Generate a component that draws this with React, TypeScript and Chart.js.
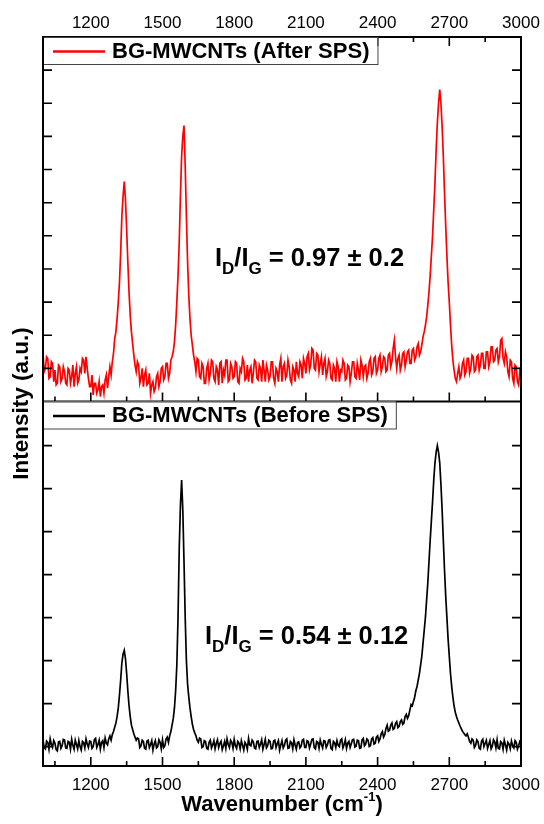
import { useEffect, useRef } from "react";
import { Chart, registerables } from "chart.js";

Chart.register(...registerables);

// ---------- data ----------
const wnStart = 1000;
const wnStep = 5;

// top panel (red) intensity, arbitrary units (one row = 100 cm-1)
const afterSPS = [
  1.45, 0.90, 1.00, 1.35, 1.30, 0.70, 0.75, 1.20, 1.15, 0.60, 0.95, 0.50, 0.55, 1.10, 1.05, 0.60, 0.70, 1.05, 0.90, 0.55,
  0.50, 1.00, 0.95, 0.55, 0.75, 1.10, 0.45, 0.85, 1.05, 0.55, 0.65, 1.00, 0.90, 1.30, 1.25, 0.85, 1.35, 1.00, 0.70, 0.45,
  0.45, 0.80, 0.20, 0.55, 0.55, 0.25, 0.35, 0.60, 0.15, 0.45, 0.50, 0.25, 0.65, 0.80, 0.40, 0.75, 1.05, 0.80, 1.20, 1.45,
  1.90, 2.10, 2.50, 3.00, 3.60, 4.50, 5.60, 6.20, 6.64, 6.10, 5.20, 4.20, 3.30, 2.60, 2.10, 1.75, 1.40, 1.10, 0.90, 1.20,
  1.10, 0.55, 0.70, 1.00, 0.45, 0.80, 0.95, 0.50, 0.55, 0.85, 0.25, 0.50, 0.60, 0.30, 0.40, 0.75, 0.85, 0.45, 0.60, 1.00,
  1.05, 0.65, 0.75, 1.15, 1.15, 0.70, 0.85, 1.25, 1.35, 1.50, 1.80, 2.30, 3.00, 3.80, 4.80, 6.20, 7.40, 8.00, 8.33, 7.10,
  5.60, 4.20, 3.20, 2.50, 2.00, 1.70, 1.40, 1.20, 0.90, 1.30, 1.25, 0.75, 0.70, 1.15, 1.05, 0.55, 0.55, 1.00, 1.15, 0.65,
  0.85, 1.25, 1.20, 0.70, 0.60, 1.05, 0.95, 0.50, 1.15, 1.20, 0.55, 0.95, 0.80, 1.25, 1.25, 0.60, 0.65, 1.15, 1.05, 0.70,
  0.75, 1.20, 1.15, 0.60, 0.55, 1.00, 0.90, 1.30, 1.20, 0.65, 0.70, 1.10, 0.60, 0.95, 1.05, 0.55, 0.85, 1.25, 1.20, 0.70,
  0.65, 1.10, 1.00, 0.60, 1.25, 0.95, 0.60, 1.10, 0.95, 0.65, 0.75, 1.20, 1.20, 0.70, 0.55, 1.00, 0.90, 0.60, 1.10, 1.30,
  0.60, 1.05, 1.15, 0.70, 0.80, 1.25, 1.05, 0.65, 0.55, 1.05, 0.95, 0.60, 1.20, 0.85, 0.75, 1.20, 1.10, 0.70, 1.30, 1.15,
  0.85, 1.35, 1.45, 0.95, 1.10, 1.60, 1.55, 1.00, 0.95, 1.45, 1.40, 0.90, 1.15, 1.35, 0.80, 1.15, 1.30, 0.75, 0.90, 1.25,
  1.15, 0.70, 0.65, 1.10, 1.00, 0.60, 1.20, 1.05, 0.60, 0.95, 0.90, 1.25, 1.15, 0.65, 0.70, 1.10, 1.05, 0.60, 0.85, 1.20,
  1.20, 0.75, 0.70, 1.15, 0.95, 0.65, 1.25, 1.10, 0.75, 1.05, 1.10, 0.70, 0.85, 1.20, 1.30, 0.80, 0.90, 1.30, 1.35, 0.85,
  0.95, 1.30, 1.40, 0.90, 1.05, 1.35, 1.30, 0.90, 0.95, 1.40, 1.45, 1.05, 1.20, 1.60, 1.85, 1.35, 1.00, 1.30, 1.40, 0.95,
  1.10, 1.45, 1.50, 1.05, 1.25, 1.50, 1.55, 1.15, 1.15, 1.55, 1.60, 1.25, 1.35, 1.65, 1.75, 1.40, 1.50, 1.70, 1.95, 2.10,
  2.30, 2.55, 2.90, 3.30, 3.80, 4.40, 5.00, 5.80, 6.60, 7.60, 8.40, 9.00, 9.41, 9.00, 8.30, 7.40, 6.30, 5.30, 4.40, 3.60,
  3.00, 2.30, 1.70, 1.25, 0.95, 0.70, 0.60, 0.85, 1.05, 0.70, 0.80, 1.15, 1.25, 0.80, 0.90, 1.30, 1.30, 0.85, 1.00, 1.40,
  1.35, 0.90, 0.95, 1.35, 1.40, 0.95, 1.10, 1.45, 1.45, 1.00, 1.00, 1.50, 1.50, 1.05, 1.20, 1.65, 1.65, 1.20, 1.25, 1.55,
  1.60, 1.20, 1.35, 1.85, 1.90, 1.30, 1.15, 1.50, 1.35, 0.90, 0.75, 1.25, 1.20, 0.70, 0.55, 1.10, 1.05, 0.60, 0.50, 0.90,
  0.75,
];

// bottom panel (black) intensity, arbitrary units (one row = 100 cm-1)
const beforeSPS = [
  0.15, -0.02, -0.05, 0.13, 0.10, -0.06, 0.18, 0.05, -0.02, 0.14, 0.08, -0.07, -0.10, 0.11, 0.12, -0.04, 0.02, 0.17, 0.16, -0.03,
  -0.04, 0.12, 0.10, -0.06, 0.17, 0.03, -0.06, 0.15, 0.05, -0.05, 0.14, 0.00, -0.08, 0.12, 0.09, -0.03, 0.18, 0.06, -0.02, 0.13,
  0.12, -0.04, 0.00, 0.16, 0.19, -0.02, 0.05, 0.15, -0.06, 0.10, 0.14, -0.02, 0.20, 0.08, 0.04, 0.18, 0.25, 0.15, 0.28, 0.35,
  0.45, 0.55, 0.70, 0.90, 1.20, 1.55, 1.95, 2.15, 2.24, 2.05, 1.70, 1.30, 0.95, 0.70, 0.50, 0.40, 0.30, 0.22, 0.15, 0.20,
  0.18, -0.02, 0.02, 0.15, 0.12, -0.04, -0.06, 0.13, 0.15, -0.02, 0.05, 0.14, -0.08, 0.06, 0.14, -0.03, 0.00, 0.16, 0.10, -0.05,
  0.16, -0.02, 0.02, 0.18, 0.22, 0.10, 0.25, 0.35, 0.50, 0.65, 0.90, 1.30, 1.90, 3.00, 4.60, 5.60, 6.20, 5.50, 4.30, 3.00,
  2.00, 1.45, 1.15, 0.90, 0.70, 0.52, 0.40, 0.32, 0.25, 0.15, 0.10, 0.20, 0.18, -0.02, 0.00, 0.14, 0.12, -0.04, -0.06, 0.10,
  0.15, -0.03, 0.04, 0.14, -0.05, 0.08, 0.16, -0.02, 0.08, 0.13, -0.07, 0.02, 0.12, -0.04, 0.18, 0.05, -0.02, 0.15, 0.10, -0.04,
  0.17, 0.02, -0.04, 0.12, 0.08, -0.05, 0.14, 0.03, -0.08, 0.10, 0.05, -0.06, 0.19, 0.04, 0.02, 0.15, 0.11, -0.03, -0.05, 0.12,
  0.13, -0.02, 0.06, 0.16, -0.06, 0.05, 0.17, -0.03, 0.02, 0.15, 0.12, -0.05, -0.04, 0.13, 0.15, -0.02, 0.07, 0.14, -0.08, 0.04,
  0.14, -0.03, 0.03, 0.15, 0.18, -0.04, -0.03, 0.12, 0.09, -0.05, 0.16, 0.04, -0.06, 0.10, 0.11, -0.03, 0.01, 0.15, 0.17, -0.02,
  -0.02, 0.14, 0.12, -0.03, 0.06, 0.17, 0.18, -0.02, -0.05, 0.12, 0.10, -0.04, 0.15, 0.05, -0.03, 0.14, 0.13, -0.02, 0.04, 0.15,
  0.16, -0.04, -0.07, 0.12, 0.09, -0.02, 0.14, 0.03, 0.00, 0.15, 0.18, -0.03, 0.05, 0.16, -0.04, 0.08, 0.12, -0.02, 0.07, 0.16,
  0.17, -0.01, 0.01, 0.15, 0.14, -0.04, -0.03, 0.16, 0.19, 0.02, 0.06, 0.18, 0.15, 0.00, 0.02, 0.18, 0.21, 0.06, 0.08, 0.22,
  0.25, 0.12, 0.18, 0.30, 0.35, 0.22, 0.28, 0.42, 0.50, 0.36, 0.38, 0.50, 0.55, 0.40, 0.42, 0.54, 0.58, 0.44, 0.47, 0.58,
  0.62, 0.52, 0.55, 0.70, 0.75, 0.66, 0.72, 0.85, 0.98, 0.95, 1.05, 1.15, 1.30, 1.40, 1.55, 1.70, 1.90, 2.10, 2.40, 2.70,
  3.00, 3.40, 3.80, 4.30, 4.80, 5.25, 5.70, 6.20, 6.60, 6.85, 7.00, 6.85, 6.60, 6.10, 5.50, 4.80, 4.10, 3.50, 3.00, 2.50,
  2.10, 1.70, 1.40, 1.15, 0.95, 0.80, 0.70, 0.62, 0.55, 0.48, 0.42, 0.36, 0.32, 0.28, 0.25, 0.30, 0.22, 0.12, 0.08, 0.18,
  0.15, -0.02, 0.03, 0.16, 0.12, -0.04, -0.06, 0.13, 0.17, 0.00, 0.08, 0.15, -0.04, 0.05, 0.14, -0.05, 0.01, 0.16, 0.11, -0.03,
  0.16, -0.04, -0.05, 0.12, 0.09, -0.06, 0.15, 0.04, -0.08, 0.10, 0.06, -0.05, 0.13, 0.02, -0.03, 0.14, 0.10, -0.06, 0.02, 0.12,
  0.08,
];

const wavenumbers = afterSPS.map((_, i) => wnStart + i * wnStep);

const xTickLabels = [1200, 1500, 1800, 2100, 2400, 2700, 3000];
const xMinorTicks = [1050, 1350, 1650, 1950, 2250, 2550, 2850];
const topYTicks = [1, 2, 3, 4, 5, 6, 7, 8, 9, 10];
const botYTicks = [0, 1, 2, 3, 4, 5, 6, 7];

const seriesLabels = ["BG-MWCNTs (After SPS)", "BG-MWCNTs (Before SPS)"];
const seriesColors = ["#ff0000", "#000000"];
const ratioValues = ["0.97 ± 0.2", "0.54 ± 0.12"];
const yTitle = "Intensity (a.u.)";
const xTitle = "Wavenumber (cm";
const xTitleSup = "-1";

const FONT = "'Liberation Sans', Arial, Helvetica, sans-serif";

function drawRatio(ctx: CanvasRenderingContext2D, x: number, y: number, value: string) {
  const big = `bold 25.5px ${FONT}`;
  const small = `bold 17px ${FONT}`;
  ctx.textAlign = "left";
  ctx.textBaseline = "alphabetic";
  ctx.fillStyle = "#000";
  const parts: [string, boolean][] = [["I", false], ["D", true], ["/I", false], ["G", true], [" = " + value, false]];
  let cx = x;
  for (const [t, sub] of parts) {
    ctx.font = sub ? small : big;
    ctx.fillText(t, cx, sub ? y + 8 : y);
    cx += ctx.measureText(t).width;
  }
}

const framePlugin = {
  id: "framePlugin",
  afterDraw(chart: any) {
    const ctx: CanvasRenderingContext2D = chart.ctx;
    const { left, right, top, bottom } = chart.chartArea;
    const xs = chart.scales.x;
    const yT = chart.scales.yTop;
    const yB = chart.scales.yBot;
    const mid = yT.getPixelForValue(0);
    ctx.save();
    ctx.strokeStyle = "#000";
    ctx.lineWidth = 2;
    ctx.strokeRect(left, top, right - left, bottom - top);
    ctx.beginPath();
    ctx.moveTo(left, mid);
    ctx.lineTo(right, mid);
    ctx.stroke();

    // x ticks (inward)
    const xTick = (v: number, len: number) => {
      const px = xs.getPixelForValue(v);
      if (px >= right - 1 || px <= left + 1) return;
      ctx.beginPath();
      ctx.moveTo(px, top);
      ctx.lineTo(px, top + len);
      ctx.moveTo(px, mid);
      ctx.lineTo(px, mid - len);
      ctx.moveTo(px, bottom);
      ctx.lineTo(px, bottom - len);
      ctx.stroke();
    };
    ctx.lineWidth = 1.6;
    xTickLabels.forEach((v) => xTick(v, 9));
    xMinorTicks.forEach((v) => xTick(v, 5));

    // y ticks (inward, both sides)
    const yTick = (py: number) => {
      ctx.beginPath();
      ctx.moveTo(left, py);
      ctx.lineTo(left + 9, py);
      ctx.moveTo(right, py);
      ctx.lineTo(right - 9, py);
      ctx.stroke();
    };
    topYTicks.forEach((v) => yTick(yT.getPixelForValue(v)));
    botYTicks.forEach((v) => yTick(yB.getPixelForValue(v)));

    // legends
    const legendFont = `bold 22px ${FONT}`;
    const boxes = [top, mid];
    chart.data.datasets.forEach((ds: any, i: number) => {
      const by = boxes[i];
      const bh = 27;
      ctx.font = legendFont;
      const tw = ctx.measureText(ds.label).width;
      const bx = left;
      const bw = 69 + tw + 8;
      ctx.fillStyle = "#fff";
      ctx.fillRect(bx, by, bw, bh);
      ctx.lineWidth = 1;
      ctx.strokeStyle = "#444";
      ctx.strokeRect(bx + 0.5, by + 0.5, bw, bh);
      ctx.strokeStyle = ds.borderColor;
      ctx.lineWidth = 2.5;
      ctx.beginPath();
      ctx.moveTo(bx + 10, by + bh / 2 + 1);
      ctx.lineTo(bx + 62, by + bh / 2 + 1);
      ctx.stroke();
      ctx.fillStyle = "#000";
      ctx.textAlign = "left";
      ctx.textBaseline = "middle";
      ctx.fillText(ds.label, bx + 69, by + bh / 2 + 1);
    });

    ctx.strokeStyle = "#000";
    ctx.lineWidth = 2;
    ctx.beginPath();
    ctx.moveTo(left, top);
    ctx.lineTo(left, bottom);
    ctx.stroke();

    // ratio annotations
    drawRatio(ctx, 215, 266, ratioValues[0]);
    drawRatio(ctx, 205, 644, ratioValues[1]);

    // y title
    ctx.save();
    ctx.translate(22, (top + bottom) / 2 + 2);
    ctx.rotate(-Math.PI / 2);
    ctx.font = `bold 22.5px ${FONT}`;
    ctx.textAlign = "center";
    ctx.textBaseline = "middle";
    ctx.fillStyle = "#000";
    ctx.fillText(yTitle, 0, 0);
    ctx.restore();

    // x title with superscript
    ctx.fillStyle = "#000";
    ctx.textBaseline = "alphabetic";
    ctx.textAlign = "left";
    const mainF = `bold 22px ${FONT}`;
    const supF = `bold 13px ${FONT}`;
    ctx.font = mainF;
    const w1 = ctx.measureText(xTitle).width;
    const w3 = ctx.measureText(")").width;
    ctx.font = supF;
    const w2 = ctx.measureText(xTitleSup).width;
    const total = w1 + w2 + w3;
    let tx = (left + right) / 2 - total / 2;
    const ty = 811;
    ctx.font = mainF;
    ctx.fillText(xTitle, tx, ty);
    tx += w1;
    ctx.font = supF;
    ctx.fillText(xTitleSup, tx, ty - 10);
    tx += w2;
    ctx.font = mainF;
    ctx.fillText(")", tx, ty);

    ctx.restore();
  },
};

export default function App() {
  const ref = useRef<HTMLCanvasElement | null>(null);
  useEffect(() => {
    if (!ref.current) return;
    const tickCfg = {
      font: { family: FONT, size: 17 },
      color: "#000",
      maxRotation: 0,
      autoSkip: false,
      callback: (v: any) => String(v),
    };
    const chart = new Chart(ref.current, {
      type: "line",
      data: {
        datasets: [
          {
            label: seriesLabels[0],
            data: wavenumbers.map((x, i) => ({ x, y: afterSPS[i] })),
            borderColor: seriesColors[0],
            borderWidth: 1.7,
            pointRadius: 0,
            tension: 0,
            fill: false,
            xAxisID: "x",
            yAxisID: "yTop",
          },
          {
            label: seriesLabels[1],
            data: wavenumbers.map((x, i) => ({ x, y: beforeSPS[i] })),
            borderColor: seriesColors[1],
            borderWidth: 1.7,
            pointRadius: 0,
            tension: 0,
            fill: false,
            xAxisID: "x",
            yAxisID: "yBot",
          },
        ],
      },
      options: {
        responsive: false,
        animation: false,
        devicePixelRatio: 1,
        layout: { padding: { left: 43, right: 23, top: 0, bottom: 0 } },
        plugins: { legend: { display: false }, tooltip: { enabled: false } },
        scales: {
          x: {
            type: "linear",
            position: "bottom",
            min: 1000,
            max: 3000,
            afterBuildTicks: (s: any) => {
              s.ticks = xTickLabels.map((v) => ({ value: v }));
            },
            afterFit: (s: any) => {
              s.height = 58;
              s.paddingLeft = 0;
              s.paddingRight = 0;
            },
            ticks: { ...tickCfg, padding: 9 },
            grid: { display: false, drawTicks: false },
            border: { display: false },
          },
          x2: {
            type: "linear",
            position: "top",
            min: 1000,
            max: 3000,
            afterBuildTicks: (s: any) => {
              s.ticks = xTickLabels.map((v) => ({ value: v }));
            },
            afterFit: (s: any) => {
              s.height = 37;
              s.paddingLeft = 0;
              s.paddingRight = 0;
            },
            ticks: { ...tickCfg, padding: 3 },
            grid: { display: false, drawTicks: false },
            border: { display: false },
          },
          yTop: { type: "linear", display: false, min: -11, max: 11 },
          yBot: { type: "linear", display: false, min: -0.45, max: 16.5 },
        },
      } as any,
      plugins: [framePlugin],
    });
    return () => chart.destroy();
  }, []);
  return (
    <div style={{ position: "absolute", left: 0, top: 0, width: 544, height: 824, background: "#fff" }}>
      <canvas ref={ref} width={544} height={824} style={{ display: "block" }} />
    </div>
  );
}
